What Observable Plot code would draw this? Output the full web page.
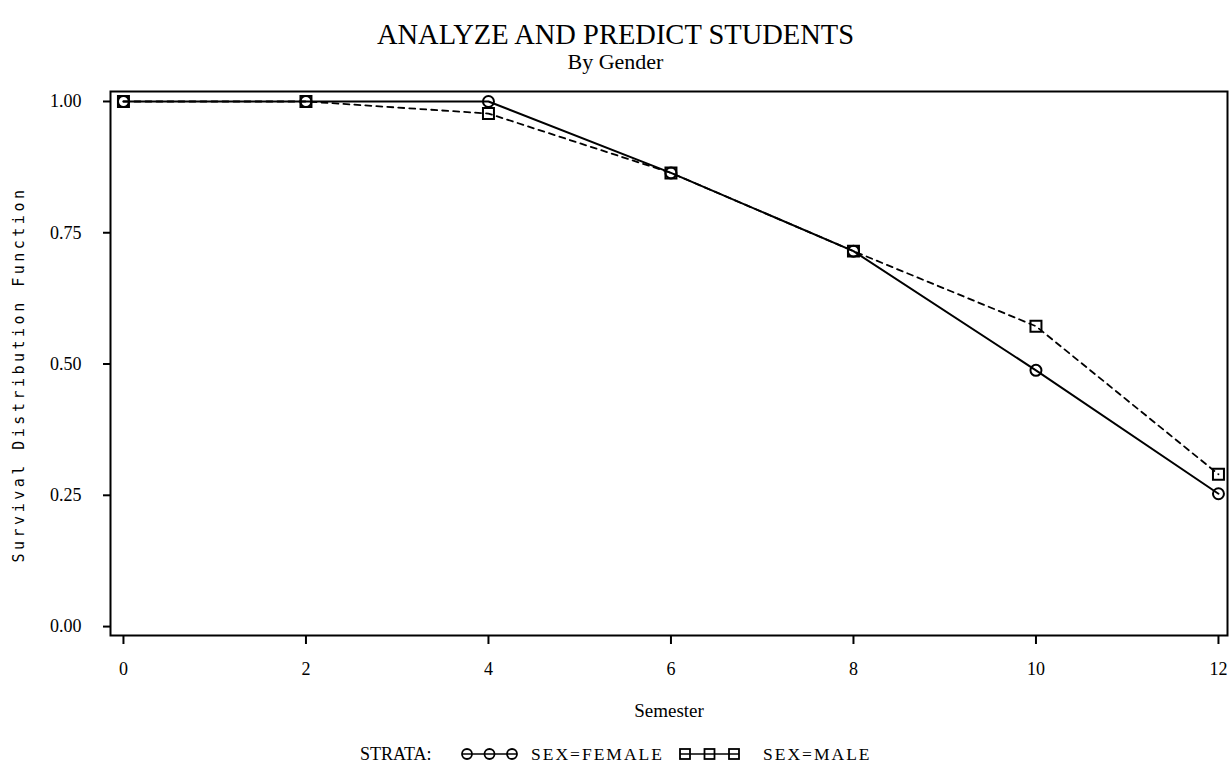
<!DOCTYPE html>
<html><head><meta charset="utf-8">
<script src="https://cdn.jsdelivr.net/npm/d3@7"></script>
<script src="https://cdn.jsdelivr.net/npm/@observablehq/plot@0.6"></script>
<style>
body{margin:0;background:#fff;width:1231px;height:768px;overflow:hidden;position:relative;font-family:"Liberation Serif","Times New Roman",serif;color:#000}
#title{position:absolute;left:0;width:1231px;top:19px;text-align:center;font-size:28.5px;line-height:32px}
#subtitle{position:absolute;left:0;width:1231px;top:49px;text-align:center;font-size:22px;line-height:26px}
#chart{position:absolute;left:0;top:80px}
#legend{position:absolute;top:740px;left:0;width:1231px;height:28px}
</style></head><body>
<div id="title">ANALYZE AND PREDICT STUDENTS</div>
<div id="subtitle">By Gender</div>
<div id="chart"></div>
<div id="legend"></div>
<script>
const semesters = [0, 2, 4, 6, 8, 10, 12];
const female = [1.0, 1.0, 1.0, 0.864, 0.715, 0.488, 0.253];
const male = [1.0, 1.0, 0.977, 0.864, 0.715, 0.572, 0.290];
const yTicks = [0, 0.25, 0.5, 0.75, 1];
const xTicks = [0, 2, 4, 6, 8, 10, 12];
const strataLabels = ["SEX=FEMALE", "SEX=MALE"];

const fRows = semesters.map((s, i) => ({x: s, y: female[i]}));
const mRows = semesters.map((s, i) => ({x: s, y: male[i]}));

const svg = Plot.plot({
  width: 1231, height: 655,
  marginLeft: 110, marginRight: 4, marginTop: 11, marginBottom: 100,
  x: {domain: [-0.142, 12.099]},
  y: {domain: [-0.017, 1.019]},
  style: {fontFamily: "Liberation Serif, Times New Roman, serif", fontSize: "18px", color: "black", background: "white", overflow: "visible"},
  marks: [
    Plot.frame({stroke: "black", strokeWidth: 2}),
    Plot.axisY({ticks: yTicks, tickFormat: d3.format(".2f"), tickSize: 7, tickPadding: 22, label: null, fontSize: 18, strokeWidth: 2}),
    Plot.axisX({ticks: xTicks, tickFormat: d => String(d), tickSize: 9, tickPadding: 18, label: null, fontSize: 18, strokeWidth: 2}),
    Plot.line(fRows, {x: "x", y: "y", stroke: "black", strokeWidth: 2}),
    Plot.line(mRows, {x: "x", y: "y", stroke: "black", strokeWidth: 1.8, strokeDasharray: "6,5"}),
    Plot.dot(fRows, {x: "x", y: "y", symbol: "circle", r: 5.5, stroke: "black", strokeWidth: 2, fill: "none"}),
    Plot.dot(mRows, {x: "x", y: "y", symbol: "square", r: 6.2, stroke: "black", strokeWidth: 2, fill: "none"}),
    Plot.text(["Semester"], {frameAnchor: "bottom", dy: 81, fontSize: 19, fill: "black"}),
    Plot.text(["Survival Distribution Function"], {frameAnchor: "left", textAnchor: "middle", dx: -91, dy: 11, rotate: -90, fontSize: 15, fontFamily: "DejaVu Sans Mono", fill: "black", className: "ylab"})
  ]
});
d3.select(svg).selectAll(".ylab text").style("letter-spacing", "3.5px");
document.getElementById("chart").appendChild(svg);

// legend
const lg = d3.select("#legend").append("svg").attr("width", 1231).attr("height", 28)
  .style("font-family", "Liberation Serif, Times New Roman, serif").style("font-size", "17.5px");
const cy = 14;
lg.append("text").attr("x", 360).attr("y", cy + 6).style("font-size", "18px").text("STRATA:");
const items = [
  {x0: 462, x1: 517, tx: 531, sym: "circle", label: strataLabels[0]},
  {x0: 680, x1: 739, tx: 763, sym: "square", label: strataLabels[1]}
];
items.forEach(it => {
  lg.append("line").attr("x1", it.x0).attr("x2", it.x1).attr("y1", cy).attr("y2", cy).attr("stroke", "black").attr("stroke-width", 1.5);
  const xs = [it.x0 + 5, (it.x0 + it.x1) / 2, it.x1 - 5];
  xs.forEach(x => {
    if (it.sym === "circle") lg.append("circle").attr("cx", x).attr("cy", cy).attr("r", 5).attr("fill", "white").attr("stroke", "black").attr("stroke-width", 1.8);
    else lg.append("rect").attr("x", x - 5).attr("y", cy - 5).attr("width", 10).attr("height", 10).attr("fill", "white").attr("stroke", "black").attr("stroke-width", 1.8);
    lg.append("line").attr("x1", x - 5).attr("x2", x + 5).attr("y1", cy).attr("y2", cy).attr("stroke", "black").attr("stroke-width", 1.5);
  });
  lg.append("text").attr("x", it.tx).attr("y", cy + 6).style("letter-spacing", "2px").text(it.label);
});
</script>
</body></html>
